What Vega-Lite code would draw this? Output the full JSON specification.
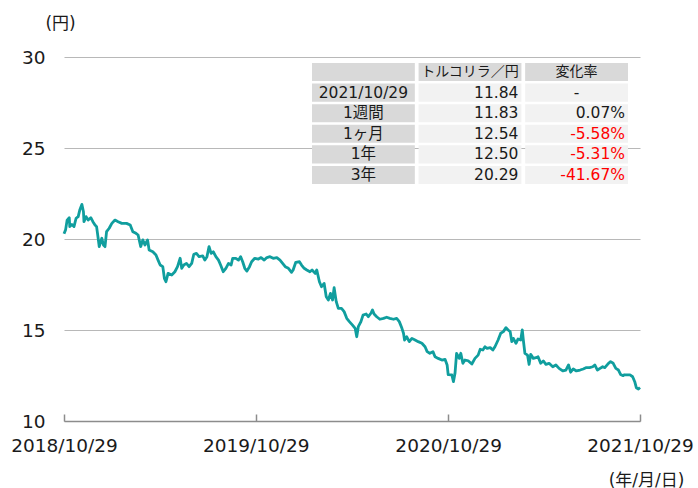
{
  "$schema": "https://vega.github.io/schema/vega-lite/v6.json",
  "width": 576,
  "height": 364,
  "autosize": {"type": "none"},
  "padding": {"left": 64, "top": 57, "right": 58, "bottom": 67},
  "background": "white",
  "config": {"view": {"stroke": null}, "font": "DejaVu Sans, Noto Sans CJK JP"},
  "datasets": {
    "fx": [
      {"date":"2018-10-29","value":20.29},{"date":"2018-11-01","value":20.5},{"date":"2018-11-04","value":21.04},{"date":"2018-11-08","value":21.17},{"date":"2018-11-09","value":20.68},{"date":"2018-11-13","value":20.8},{"date":"2018-11-17","value":20.68},{"date":"2018-11-21","value":21.14},{"date":"2018-11-25","value":21.23},{"date":"2018-11-28","value":21.59},{"date":"2018-12-02","value":21.9},{"date":"2018-12-05","value":21.5},{"date":"2018-12-06","value":20.95},{"date":"2018-12-10","value":21.23},{"date":"2018-12-14","value":21.04},{"date":"2018-12-19","value":21.17},{"date":"2018-12-23","value":20.95},{"date":"2018-12-27","value":20.77},{"date":"2018-12-30","value":20.68},
      {"date":"2019-01-02","value":20.04},{"date":"2019-01-04","value":19.58},{"date":"2019-01-09","value":20.04},{"date":"2019-01-12","value":19.67},{"date":"2019-01-15","value":19.58},{"date":"2019-01-18","value":20.4},{"date":"2019-01-23","value":20.59},{"date":"2019-01-28","value":20.86},{"date":"2019-02-03","value":21.04},{"date":"2019-02-09","value":20.95},{"date":"2019-02-16","value":20.86},{"date":"2019-02-25","value":20.86},{"date":"2019-03-04","value":20.77},{"date":"2019-03-09","value":20.4},{"date":"2019-03-15","value":20.31},{"date":"2019-03-19","value":20.22},{"date":"2019-03-24","value":19.58},{"date":"2019-03-28","value":19.95},{"date":"2019-04-01","value":19.67},{"date":"2019-04-06","value":19.95},{"date":"2019-04-09","value":19.4},{"date":"2019-04-16","value":19.3},{"date":"2019-04-22","value":19.12},{"date":"2019-04-26","value":18.84},{"date":"2019-04-30","value":18.57},{"date":"2019-05-05","value":18.48},{"date":"2019-05-08","value":17.84},{"date":"2019-05-11","value":17.65},{"date":"2019-05-15","value":18.11},{"date":"2019-05-22","value":18.02},{"date":"2019-05-28","value":18.2},{"date":"2019-06-02","value":18.48},{"date":"2019-06-07","value":18.94},{"date":"2019-06-10","value":18.39},{"date":"2019-06-14","value":18.57},{"date":"2019-06-19","value":18.66},{"date":"2019-06-24","value":18.48},{"date":"2019-06-29","value":18.66},{"date":"2019-07-03","value":19.16},{"date":"2019-07-08","value":19.21},{"date":"2019-07-13","value":19.03},{"date":"2019-07-20","value":19.07},{"date":"2019-07-24","value":18.84},{"date":"2019-07-28","value":19.03},{"date":"2019-08-01","value":19.58},{"date":"2019-08-05","value":19.21},{"date":"2019-08-09","value":19.3},{"date":"2019-08-14","value":19.03},{"date":"2019-08-19","value":18.84},{"date":"2019-08-23","value":18.57},{"date":"2019-08-28","value":18.2},{"date":"2019-09-02","value":18.39},{"date":"2019-09-07","value":18.66},{"date":"2019-09-12","value":18.57},{"date":"2019-09-15","value":18.94},{"date":"2019-09-21","value":18.94},{"date":"2019-09-26","value":18.84},{"date":"2019-09-30","value":19.03},{"date":"2019-10-04","value":18.75},{"date":"2019-10-08","value":18.39},{"date":"2019-10-12","value":18.24},{"date":"2019-10-17","value":18.48},{"date":"2019-10-21","value":18.75},{"date":"2019-10-27","value":18.94},{"date":"2019-11-03","value":18.9},{"date":"2019-11-08","value":18.98},{"date":"2019-11-14","value":18.84},{"date":"2019-11-19","value":18.98},{"date":"2019-11-25","value":19.03},{"date":"2019-12-01","value":18.94},{"date":"2019-12-08","value":18.98},{"date":"2019-12-14","value":18.84},{"date":"2019-12-19","value":18.66},{"date":"2019-12-24","value":18.48},{"date":"2019-12-30","value":18.39},
      {"date":"2020-01-05","value":18.17},{"date":"2020-01-08","value":18.3},{"date":"2020-01-13","value":18.72},{"date":"2020-01-20","value":18.75},{"date":"2020-01-24","value":18.57},{"date":"2020-01-29","value":18.39},{"date":"2020-02-03","value":18.3},{"date":"2020-02-09","value":18.2},{"date":"2020-02-13","value":18.3},{"date":"2020-02-19","value":18.11},{"date":"2020-02-22","value":18.3},{"date":"2020-02-27","value":17.65},{"date":"2020-03-02","value":17.38},{"date":"2020-03-07","value":17.56},{"date":"2020-03-11","value":16.83},{"date":"2020-03-15","value":16.65},{"date":"2020-03-19","value":17.01},{"date":"2020-03-23","value":16.65},{"date":"2020-03-26","value":17.33},{"date":"2020-03-30","value":16.56},{"date":"2020-04-03","value":16.19},{"date":"2020-04-09","value":16.19},{"date":"2020-04-14","value":16.01},{"date":"2020-04-19","value":15.64},{"date":"2020-04-24","value":15.46},{"date":"2020-04-30","value":15.27},{"date":"2020-05-05","value":15.09},{"date":"2020-05-08","value":14.63},{"date":"2020-05-11","value":15.18},{"date":"2020-05-16","value":15.46},{"date":"2020-05-20","value":15.82},{"date":"2020-05-26","value":15.88},{"date":"2020-05-30","value":15.73},{"date":"2020-06-04","value":15.92},{"date":"2020-06-07","value":16.1},{"date":"2020-06-10","value":15.88},{"date":"2020-06-15","value":15.73},{"date":"2020-06-21","value":15.59},{"date":"2020-06-28","value":15.64},{"date":"2020-07-04","value":15.7},{"date":"2020-07-10","value":15.64},{"date":"2020-07-17","value":15.59},{"date":"2020-07-23","value":15.64},{"date":"2020-07-28","value":15.46},{"date":"2020-08-02","value":15.09},{"date":"2020-08-05","value":14.82},{"date":"2020-08-07","value":14.45},{"date":"2020-08-11","value":14.63},{"date":"2020-08-16","value":14.36},{"date":"2020-08-21","value":14.54},{"date":"2020-08-27","value":14.45},{"date":"2020-09-02","value":14.36},{"date":"2020-09-09","value":14.27},{"date":"2020-09-15","value":14.08},{"date":"2020-09-19","value":13.81},{"date":"2020-09-24","value":13.72},{"date":"2020-09-30","value":13.81},{"date":"2020-10-04","value":13.53},{"date":"2020-10-10","value":13.44},{"date":"2020-10-17","value":13.35},{"date":"2020-10-23","value":13.39},{"date":"2020-10-27","value":13.08},{"date":"2020-10-29","value":12.55},{"date":"2020-11-05","value":12.53},{"date":"2020-11-08","value":12.16},{"date":"2020-11-11","value":12.62},{"date":"2020-11-14","value":13.72},{"date":"2020-11-19","value":13.44},{"date":"2020-11-22","value":13.72},{"date":"2020-11-26","value":13.17},{"date":"2020-11-30","value":13.35},{"date":"2020-12-06","value":13.31},{"date":"2020-12-13","value":13.13},{"date":"2020-12-19","value":13.44},{"date":"2020-12-25","value":13.62},{"date":"2020-12-29","value":13.94},
      {"date":"2021-01-03","value":13.9},{"date":"2021-01-07","value":14.08},{"date":"2021-01-11","value":13.99},{"date":"2021-01-17","value":14.03},{"date":"2021-01-22","value":13.9},{"date":"2021-01-26","value":14.08},{"date":"2021-02-01","value":14.45},{"date":"2021-02-06","value":14.82},{"date":"2021-02-11","value":14.91},{"date":"2021-02-16","value":15.13},{"date":"2021-02-20","value":15.0},{"date":"2021-02-24","value":14.91},{"date":"2021-02-27","value":14.36},{"date":"2021-03-02","value":14.54},{"date":"2021-03-07","value":14.27},{"date":"2021-03-11","value":14.51},{"date":"2021-03-16","value":14.45},{"date":"2021-03-19","value":15.0},{"date":"2021-03-21","value":14.45},{"date":"2021-03-24","value":13.72},{"date":"2021-03-29","value":13.62},{"date":"2021-04-01","value":13.11},{"date":"2021-04-04","value":13.66},{"date":"2021-04-09","value":13.44},{"date":"2021-04-14","value":13.48},{"date":"2021-04-18","value":13.53},{"date":"2021-04-23","value":13.17},{"date":"2021-04-28","value":13.3},{"date":"2021-05-03","value":13.11},{"date":"2021-05-09","value":13.17},{"date":"2021-05-16","value":12.98},{"date":"2021-05-22","value":13.08},{"date":"2021-05-28","value":12.89},{"date":"2021-06-04","value":12.75},{"date":"2021-06-10","value":12.8},{"date":"2021-06-15","value":13.08},{"date":"2021-06-19","value":12.68},{"date":"2021-06-24","value":12.86},{"date":"2021-06-30","value":12.75},{"date":"2021-07-07","value":12.8},{"date":"2021-07-13","value":12.86},{"date":"2021-07-18","value":12.93},{"date":"2021-07-25","value":12.93},{"date":"2021-07-31","value":12.98},{"date":"2021-08-04","value":13.08},{"date":"2021-08-09","value":12.8},{"date":"2021-08-14","value":12.89},{"date":"2021-08-19","value":12.98},{"date":"2021-08-23","value":12.93},{"date":"2021-08-30","value":13.17},{"date":"2021-09-03","value":13.26},{"date":"2021-09-08","value":13.17},{"date":"2021-09-13","value":12.89},{"date":"2021-09-18","value":12.8},{"date":"2021-09-22","value":12.56},{"date":"2021-09-27","value":12.49},{"date":"2021-09-29","value":12.54},{"date":"2021-10-04","value":12.53},{"date":"2021-10-10","value":12.53},{"date":"2021-10-15","value":12.43},{"date":"2021-10-19","value":12.16},{"date":"2021-10-22","value":11.83},{"date":"2021-10-26","value":11.76},{"date":"2021-10-29","value":11.84}
    ],
    "table": [
      {"row":"h","col":"label","text":""},{"row":"h","col":"value","text":"トルコリラ／円"},{"row":"h","col":"change","text":"変化率"},
      {"row":"r1","col":"label","text":"2021/10/29"},{"row":"r1","col":"value","text":"11.84"},{"row":"r1","col":"change","text":"-"},
      {"row":"r2","col":"label","text":"1週間"},{"row":"r2","col":"value","text":"11.83"},{"row":"r2","col":"change","text":"0.07%"},
      {"row":"r3","col":"label","text":"1ヶ月"},{"row":"r3","col":"value","text":"12.54"},{"row":"r3","col":"change","text":"-5.58%"},
      {"row":"r4","col":"label","text":"1年"},{"row":"r4","col":"value","text":"12.50"},{"row":"r4","col":"change","text":"-5.31%"},
      {"row":"r5","col":"label","text":"3年"},{"row":"r5","col":"value","text":"20.29"},{"row":"r5","col":"change","text":"-41.67%"}
    ]
  },
  "layer": [
    {
      "data": {"name": "fx"},
      "mark": {"type": "line", "color": "#109e9e", "strokeWidth": 2.8, "strokeJoin": "round"},
      "encoding": {
        "x": {
          "field": "date", "type": "temporal",
          "scale": {"type": "utc", "domain": [{"year": 2018, "month": 10, "date": 29, "utc": true}, {"year": 2021, "month": 10, "date": 29, "utc": true}]},
          "axis": {
            "values": [{"year": 2018, "month": 10, "date": 29, "utc": true}, {"year": 2019, "month": 10, "date": 29, "utc": true}, {"year": 2020, "month": 10, "date": 29, "utc": true}, {"year": 2021, "month": 10, "date": 29, "utc": true}],
            "format": "%Y/%m/%d",
            "labelFlush": false,
            "labelOverlap": false,
            "labelFont": "DejaVu Sans",
            "labelFontSize": 18.5,
            "labelColor": "#1a1a1a",
            "labelPadding": 22,
            "tickSize": -7,
            "tickColor": "#8c8c8c",
            "tickWidth": 1.5,
            "domainColor": "#8c8c8c",
            "domainWidth": 1.5,
            "grid": false,
            "title": "(年/月/日)",
            "titleFont": "DejaVu Sans, Noto Sans CJK JP",
            "titleFontSize": 17,
            "titleFontWeight": "normal",
            "titleColor": "#1a1a1a",
            "titleX": 582,
            "titleY": 59,
            "titleAlign": "center",
            "titleBaseline": "middle"
          }
        },
        "y": {
          "field": "value", "type": "quantitative",
          "scale": {"domain": [10, 30], "nice": false, "zero": false},
          "axis": {
            "values": [10, 15, 20, 25, 30],
            "domain": false,
            "ticks": false,
            "tickSize": 0,
            "labelPadding": 19,
            "labelFont": "DejaVu Sans",
            "labelFontSize": 18.5,
            "labelColor": "#1a1a1a",
            "grid": true,
            "gridColor": "#b8b8b8",
            "gridWidth": 1.2,
            "title": "(円)",
            "titleFont": "DejaVu Sans, Noto Sans CJK JP",
            "titleAngle": 0,
            "titleFontSize": 17,
            "titleFontWeight": "normal",
            "titleColor": "#1a1a1a",
            "titleX": -4,
            "titleY": -34,
            "titleAlign": "center",
            "titleBaseline": "middle"
          }
        }
      }
    },
    {
      "data": {"name": "table"},
      "encoding": {
        "x": {"field": "col", "type": "nominal", "scale": {"domain": ["label", "value", "change"], "range": [248, 564], "paddingInner": 0.035, "paddingOuter": 0}, "axis": null},
        "y": {"field": "row", "type": "nominal", "scale": {"domain": ["h", "r1", "r2", "r3", "r4", "r5"], "range": [6, 127], "paddingInner": 0.12, "paddingOuter": 0}, "axis": null}
      },
      "layer": [
        {
          "mark": {"type": "rect"},
          "encoding": {"fill": {"condition": {"test": "datum.col === 'label' || datum.row === 'h'", "value": "#d9d9d9"}, "value": "#f2f2f2"}}
        },
        {
          "transform": [{"filter": "datum.col === 'label' || datum.row === 'h' || datum.text === '-'"}],
          "mark": {"type": "text", "baseline": "middle", "align": "center", "color": "#1a1a1a", "font": "DejaVu Sans, Noto Sans CJK JP"},
          "encoding": {
            "text": {"field": "text"},
            "size": {"condition": {"test": "datum.row === 'h'", "value": 14}, "value": 15.5}
          }
        },
        {
          "transform": [{"filter": "!(datum.col === 'label' || datum.row === 'h' || datum.text === '-')"}],
          "mark": {"type": "text", "baseline": "middle", "align": "right", "dx": -3, "fontSize": 15.5, "font": "DejaVu Sans"},
          "encoding": {
            "x": {"field": "col", "type": "nominal", "bandPosition": 1, "scale": {"domain": ["label", "value", "change"], "range": [248, 564], "paddingInner": 0.035, "paddingOuter": 0}, "axis": null},
            "text": {"field": "text"},
            "color": {"condition": {"test": "indexof(datum.text, '-') === 0", "value": "#ff0000"}, "value": "#1a1a1a"}
          }
        }
      ]
    }
  ],
  "resolve": {"scale": {"x": "independent", "y": "independent"}}
}
